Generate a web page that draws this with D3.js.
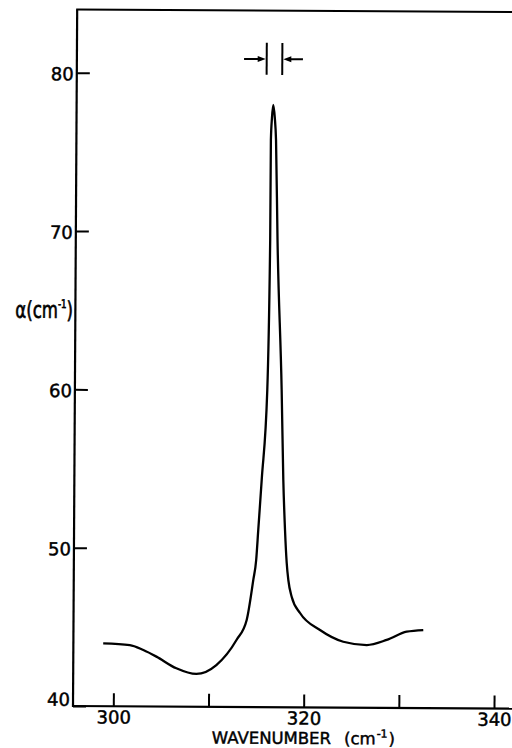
<!DOCTYPE html>
<html><head><meta charset="utf-8">
<script src="https://cdn.jsdelivr.net/npm/d3@7"></script>
<style>html,body{margin:0;padding:0;background:#fff;} svg{display:block;}</style>
</head><body>
<script>
// ---- data ----
const wavenumber = [298.9, 301.7, 303.12, 304.5, 306.6, 308.7, 310.8, 312.9, 313.96, 314.63, 314.92, 315.12, 315.45, 315.98, 316.19, 316.2, 316.3, 316.43, 316.6, 316.74, 316.96, 317.49, 317.72, 317.93, 318.13, 318.31, 318.68, 319.56, 321.67, 324.12, 326.59, 328.68, 330.78, 332.52];
const alpha      = [43.97, 43.87, 43.56, 43.15, 42.42, 42.07, 42.64, 44.23, 45.5, 48.03, 49.29, 51.19, 54.35, 60.04, 69.51, 75.83, 77.22, 78.04, 77.22, 75.83, 69.51, 60.04, 54.36, 51.2, 49.11, 48.04, 46.97, 45.96, 44.89, 44.16, 43.96, 44.29, 44.82, 44.93];
const xTicks = [300, 310, 320, 330, 340];
const xTickLabels = ["300", "", "320", "", "340"];
const yTicks = [40, 50, 60, 70, 80];
const yTickLabels = ["40", "50", "60", "70", "80"];
const resolutionBars = [315.71, 317.35];
const resolutionTails = [313.33, 319.52];
const resolutionLevel = 80.93;
const resolutionBarRange = [79.94, 81.96];
const xDomain = [300, 340];
const yDomain = [40, 80];
const yFrameTop = 84;
const xFrameRight = 345;

// ---- layout ----
const W = 512, H = 748;
const FONT = "'DejaVu Sans', sans-serif";
const svg = d3.select("body").append("svg").attr("width", W).attr("height", H);
const g = svg.append("g").attr("transform", "rotate(0.344,73,706)");

const x = d3.scaleLinear().domain(xDomain).range([113.3, 494]);
const y = d3.scaleLinear().domain(yDomain).range([706, 72.7]);
const axisLeftX = 73;

// frame lines: left axis, bottom axis, top line
g.append("line").attr("x1", axisLeftX).attr("x2", axisLeftX).attr("y1", y(yFrameTop)).attr("y2", y(40) + 1)
  .attr("stroke", "#000").attr("stroke-width", 2.2);
g.append("line").attr("x1", axisLeftX - 1).attr("x2", x(xFrameRight)).attr("y1", y(40)).attr("y2", y(40))
  .attr("stroke", "#000").attr("stroke-width", 2.2);
g.append("line").attr("x1", axisLeftX - 1).attr("x2", x(xFrameRight)).attr("y1", y(yFrameTop)).attr("y2", y(yFrameTop))
  .attr("stroke", "#000").attr("stroke-width", 2);

// y axis (ticks inward)
const yAxis = d3.axisLeft(y).tickValues(yTicks).tickSize(-13).tickPadding(3)
  .tickFormat((d, i) => yTickLabels[i]);
const ya = g.append("g").attr("transform", `translate(${axisLeftX},0)`).call(yAxis);
ya.select(".domain").remove();
ya.selectAll(".tick line").attr("stroke", "#000").attr("stroke-width", 2);
ya.selectAll(".tick text").attr("font-family", FONT).attr("font-size", 18).attr("fill", "#000")
  .attr("stroke", "#000").attr("stroke-width", 0.45)
  .attr("dy", d => d === 40 ? "-0.04em" : "0.4em");

// x axis (ticks inward)
const xAxis = d3.axisBottom(x).tickValues(xTicks).tickSize(-13).tickPadding(4.5)
  .tickFormat((d, i) => xTickLabels[i]);
const xa = g.append("g").attr("transform", `translate(0,${y(40)})`).call(xAxis);
xa.select(".domain").remove();
xa.selectAll(".tick line").attr("stroke", "#000").attr("stroke-width", 2);
xa.selectAll(".tick text").attr("font-family", FONT).attr("font-size", 18).attr("fill", "#000")
  .attr("stroke", "#000").attr("stroke-width", 0.45);

// axis titles
const xt = g.append("text").attr("x", 212).attr("y", 742.6)
  .attr("font-family", FONT).attr("font-size", 16.5).attr("fill", "#000")
  .attr("stroke", "#000").attr("stroke-width", 0.45);
xt.append("tspan").text("WAVENUMBER");
xt.append("tspan").attr("dx", 13).text("(cm");
xt.append("tspan").attr("dx", 1).attr("dy", -7).attr("font-size", 11).text("-1");
xt.append("tspan").attr("dx", 1).attr("dy", 7).text(")");

const ytg = g.append("g").attr("transform", "translate(13,318) scale(0.72,1)");
const yt = ytg.append("text").attr("x", 0).attr("y", 0)
  .attr("font-family", FONT).attr("font-size", 23).attr("fill", "#000")
  .attr("stroke", "#000").attr("stroke-width", 0.7);
yt.append("tspan").text("α(cm");
yt.append("tspan").attr("dy", -10).attr("font-size", 12).text("-1");
yt.append("tspan").attr("dy", 10).text(")");

// spectrum curve
const pts = wavenumber.map((w, i) => [w, alpha[i]]);
const line = d3.line().x(d => x(d[0])).y(d => y(d[1])).curve(d3.curveMonotoneX);
g.append("path").datum(pts).attr("d", line).attr("fill", "none")
  .attr("stroke", "#000").attr("stroke-width", 2.3).attr("stroke-linejoin", "round");

// resolution marker
const rm = g.append("g");
resolutionBars.forEach(b => {
  rm.append("line").attr("x1", x(b)).attr("x2", x(b))
    .attr("y1", y(resolutionBarRange[1])).attr("y2", y(resolutionBarRange[0]))
    .attr("stroke", "#000").attr("stroke-width", 2);
});
resolutionTails.forEach((t, i) => {
  const tip = x(resolutionBars[i]) + (i === 0 ? -1 : 1);
  const dir = i === 0 ? 1 : -1;
  const yy = y(resolutionLevel);
  rm.append("line").attr("x1", x(t)).attr("x2", tip - dir * 4).attr("y1", yy).attr("y2", yy)
    .attr("stroke", "#000").attr("stroke-width", 2);
  rm.append("path").attr("d", `M${tip},${yy} L${tip - dir * 8},${yy - 3} L${tip - dir * 8},${yy + 3} Z`)
    .attr("fill", "#000");
});
</script>
</body></html>
